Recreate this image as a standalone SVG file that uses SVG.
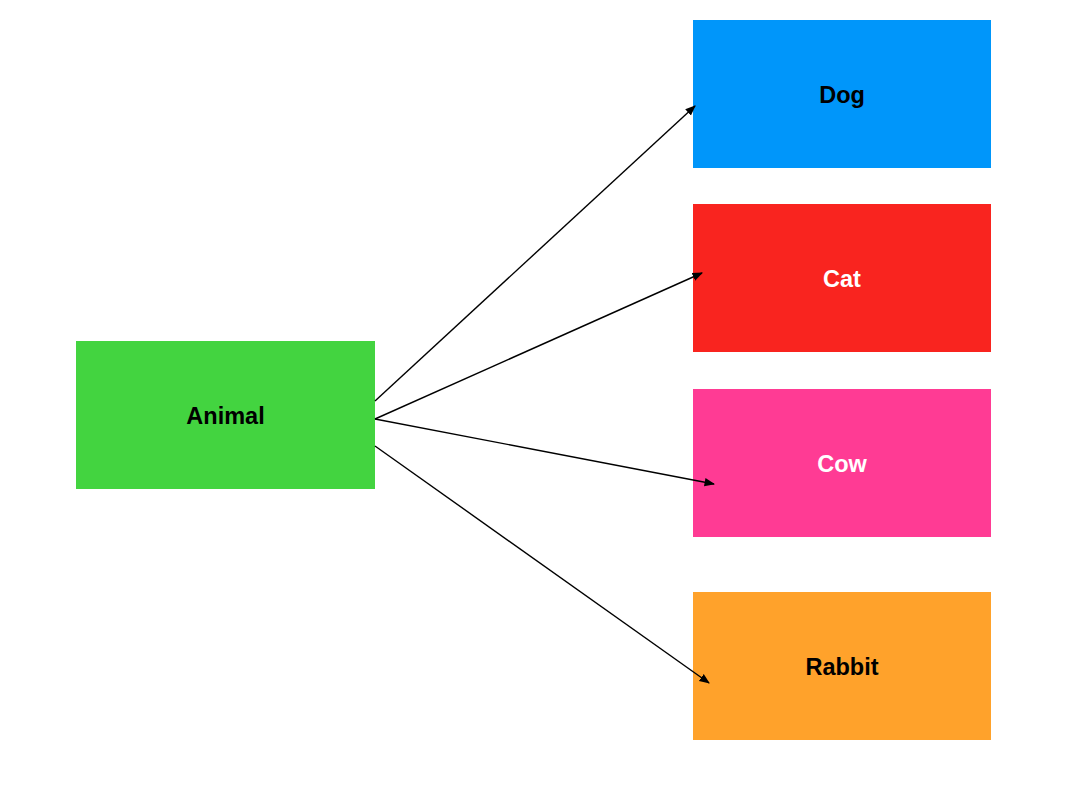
<svg xmlns="http://www.w3.org/2000/svg" width="1078" height="790" viewBox="0 0 1078 790">
<style>
.lbl{font-family:"Liberation Sans",Arial,sans-serif;font-weight:bold;font-size:23.5px;text-anchor:middle;dominant-baseline:central}
.conn{stroke:#000;stroke-width:1.4;fill:none;marker-end:url(#ah)}
</style>
<defs>
<marker id="ah" viewBox="0 0 10 10" refX="9" refY="5" markerWidth="7.5" markerHeight="7.5" markerUnits="strokeWidth" orient="auto">
<path d="M0,1 L10,5 L0,9 Z" fill="#000"/>
</marker>
</defs>
<rect width="1078" height="790" fill="#fff"/>
<g id="animal"><rect x="76" y="341" width="299" height="148" fill="#43D440"/><text class="lbl" x="225.5" y="416" fill="#000">Animal</text></g>
<g id="dog"><rect x="693" y="20" width="298" height="148" fill="#0096FA"/><text class="lbl" x="842" y="95" fill="#000">Dog</text></g>
<g id="cat"><rect x="693" y="204" width="298" height="148" fill="#F9241F"/><text class="lbl" x="842" y="279" fill="#fff">Cat</text></g>
<g id="cow"><rect x="693" y="389" width="298" height="148" fill="#FF3B94"/><text class="lbl" x="842" y="464" fill="#fff">Cow</text></g>
<g id="rabbit"><rect x="693" y="592" width="298" height="148" fill="#FFA22B"/><text class="lbl" x="842" y="667" fill="#000">Rabbit</text></g>
<g id="connectors">
<line class="conn" x1="375" y1="401" x2="695" y2="106"/>
<line class="conn" x1="375" y1="419" x2="702" y2="273"/>
<line class="conn" x1="375" y1="419" x2="714" y2="484"/>
<line class="conn" x1="375" y1="446" x2="709" y2="683"/>
</g>
</svg>
